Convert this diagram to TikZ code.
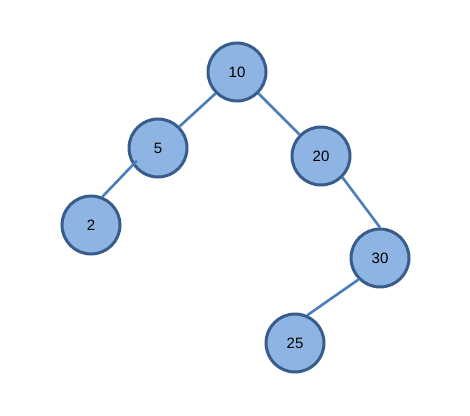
\documentclass[tikz,border=0pt]{standalone}
\usepackage{fontspec}
\setmainfont{Liberation Sans}
\usepackage{tikz}
\usepackage{xcolor}
\definecolor{keyfill}{RGB}{141,180,226}
\definecolor{keyline}{RGB}{56,93,138}
\definecolor{edgeline}{RGB}{74,126,187}
\tikzstyle{keynode} = [draw=keyline, fill=keyfill, line width=3pt,
    circle, minimum size=58pt, inner sep=0pt, font=\fontsize{15}{17}\selectfont]
\tikzstyle{treeedge} =[draw=edgeline, line width=2.6pt]

\begin{document}
\begin{tikzpicture}[x=1pt, y=-1pt]
    \useasboundingbox (0,0) rectangle (470,415);
    \node [keynode] (k10) at (237,72) {10};
    \node [keynode] (k5) at (158,148) {5};
    \node [keynode] (k20) at (321,156) {20};
    \node [keynode] (k2) at (91,225) {2};
    \node [keynode] (k30) at (380,258) {30};
    \node [keynode] (k25) at (295,343) {25};
    % edges between the keys
    \draw[treeedge] (k10.south west) -- (k5.north east);
    \draw[treeedge] (k10.south east) -- (k20.north west);
    \draw[treeedge, shorten >=-6pt] (k2.68) -- (k5.214);
    \draw[treeedge] (k20.south east) -- (k30.north);
    \draw[treeedge] (k30.south west) -- (k25.66);
\end{tikzpicture}
\end{document}
